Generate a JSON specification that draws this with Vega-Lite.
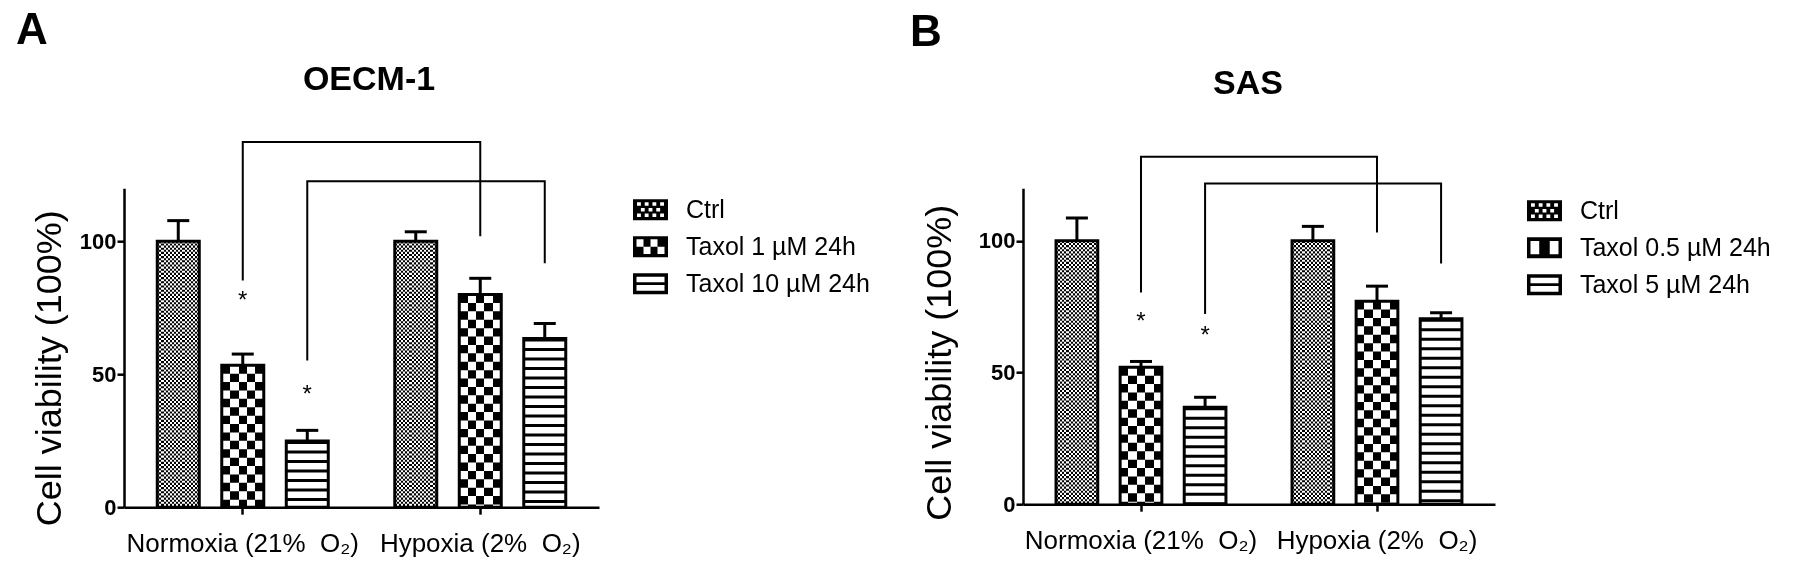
{
  "$schema": "https://vega.github.io/schema/vega-lite/v6.json",
  "background": "white",
  "padding": {"left": 15, "top": 8.2, "right": 5, "bottom": 0},
  "spacing": 39,
  "config": {
    "font": "Liberation Sans",
    "view": {"stroke": null},
    "axis": {"labelFont": "Liberation Sans", "titleFont": "Liberation Sans", "labelColor": "black", "titleColor": "black", "domainColor": "black", "tickColor": "black", "domainWidth": 2.5, "tickWidth": 2.5, "grid": false},
    "legend": {"labelFont": "Liberation Sans", "labelFontSize": 25, "labelColor": "black"},
    "title": {"color": "black", "font": "Liberation Sans"}
  },
  "resolve": {"scale": {"x": "independent", "y": "independent", "xOffset": "independent", "shape": "independent"}, "legend": {"shape": "independent"}},
  "datasets": {
    "a": [
      {"cond": "Normoxia (21% \u00a0O₂)", "grp": "Ctrl", "treat": "Ctrl", "v": 100, "hi": 107.8},
      {"cond": "Normoxia (21% \u00a0O₂)", "grp": "low", "treat": "Taxol 1 µM 24h", "v": 53.4, "hi": 57.6, "star": 77.4},
      {"cond": "Normoxia (21% \u00a0O₂)", "grp": "high", "treat": "Taxol 10 µM 24h", "v": 24.9, "hi": 28.9, "star": 42.3},
      {"cond": "Hypoxia (2% \u00a0O₂)", "grp": "Ctrl", "treat": "Ctrl", "v": 100, "hi": 103.6},
      {"cond": "Hypoxia (2% \u00a0O₂)", "grp": "low", "treat": "Taxol 1 µM 24h", "v": 80, "hi": 86.1},
      {"cond": "Hypoxia (2% \u00a0O₂)", "grp": "high", "treat": "Taxol 10 µM 24h", "v": 63.5, "hi": 69.1}
    ],
    "ba": [
      {"br": 1, "k": 1, "cond": "Normoxia (21% \u00a0O₂)", "grp": "low", "y": 85.3},
      {"br": 1, "k": 2, "cond": "Normoxia (21% \u00a0O₂)", "grp": "low", "y": 137.4},
      {"br": 1, "k": 3, "cond": "Hypoxia (2% \u00a0O₂)", "grp": "low", "y": 137.4},
      {"br": 1, "k": 4, "cond": "Hypoxia (2% \u00a0O₂)", "grp": "low", "y": 101.9},
      {"br": 2, "k": 1, "cond": "Normoxia (21% \u00a0O₂)", "grp": "high", "y": 55.2},
      {"br": 2, "k": 2, "cond": "Normoxia (21% \u00a0O₂)", "grp": "high", "y": 122.6},
      {"br": 2, "k": 3, "cond": "Hypoxia (2% \u00a0O₂)", "grp": "high", "y": 122.6},
      {"br": 2, "k": 4, "cond": "Hypoxia (2% \u00a0O₂)", "grp": "high", "y": 91.8}
    ],
    "b": [
      {"cond": "Normoxia (21% \u00a0O₂)", "grp": "Ctrl", "treat": "Ctrl", "v": 100, "hi": 108.7},
      {"cond": "Normoxia (21% \u00a0O₂)", "grp": "low", "treat": "Taxol 0.5 µM 24h", "v": 52, "hi": 54.2, "star": 69},
      {"cond": "Normoxia (21% \u00a0O₂)", "grp": "high", "treat": "Taxol 5 µM 24h", "v": 36.8, "hi": 40.6, "star": 63.9},
      {"cond": "Hypoxia (2% \u00a0O₂)", "grp": "Ctrl", "treat": "Ctrl", "v": 100, "hi": 105.5},
      {"cond": "Hypoxia (2% \u00a0O₂)", "grp": "low", "treat": "Taxol 0.5 µM 24h", "v": 77.1, "hi": 82.8},
      {"cond": "Hypoxia (2% \u00a0O₂)", "grp": "high", "treat": "Taxol 5 µM 24h", "v": 70.4, "hi": 72.7}
    ],
    "bb": [
      {"br": 1, "k": 1, "cond": "Normoxia (21% \u00a0O₂)", "grp": "low", "y": 80.4},
      {"br": 1, "k": 2, "cond": "Normoxia (21% \u00a0O₂)", "grp": "low", "y": 131.9},
      {"br": 1, "k": 3, "cond": "Hypoxia (2% \u00a0O₂)", "grp": "low", "y": 131.9},
      {"br": 1, "k": 4, "cond": "Hypoxia (2% \u00a0O₂)", "grp": "low", "y": 103.2},
      {"br": 2, "k": 1, "cond": "Normoxia (21% \u00a0O₂)", "grp": "high", "y": 72.2},
      {"br": 2, "k": 2, "cond": "Normoxia (21% \u00a0O₂)", "grp": "high", "y": 121.8},
      {"br": 2, "k": 3, "cond": "Hypoxia (2% \u00a0O₂)", "grp": "high", "y": 121.8},
      {"br": 2, "k": 4, "cond": "Hypoxia (2% \u00a0O₂)", "grp": "high", "y": 91.4}
    ]
  },
  "hconcat": [
    {
      "title": {"text": "A", "anchor": "start", "frame": "bounds", "fontSize": 44, "fontWeight": "bold", "baseline": "alphabetic", "offset": -24.8, "dx": -15},
      "resolve": {"scale": {"shape": "independent"}, "legend": {"shape": "independent"}},
      "vconcat": [
        {
          "width": 475,
          "height": 319,
          "title": {"text": "OECM-1", "anchor": "middle", "frame": "group", "fontSize": 34, "fontWeight": "bold", "baseline": "alphabetic", "offset": 13.7, "dx": 7.5},
          "data": {"name": "a"},
          "encoding": {
            "x": {"field": "cond", "type": "nominal", "sort": ["Normoxia (21% \u00a0O₂)", "Hypoxia (2% \u00a0O₂)"], "scale": {"paddingInner": 0, "paddingOuter": 0}, "axis": {"title": null, "labelAngle": 0, "labelFontSize": 26, "labelPadding": 16.5, "tickSize": 7, "labelLimit": 400}},
            "xOffset": {"field": "grp", "type": "nominal", "scale": {"domain": ["Ctrl", "low", "high"], "paddingInner": 0.349, "paddingOuter": 0.5155}}
          },
          "layer": [
            {
              "transform": [{"filter": {"field": "grp", "equal": "Ctrl"}}],
              "mark": {"type": "bar", "strokeWidth": 0, "clip": false, "fill": {"gradient": "linear", "x1": 0, "y1": 0, "x2": 1, "y2": 0, "stops": [
                {"offset": 0, "color": "#000"}, {"offset": 0.05, "color": "#000"}, {"offset": 0.05, "color": "#fff"}, {"offset": 0.1, "color": "#fff"},
                {"offset": 0.1, "color": "#000"}, {"offset": 0.15, "color": "#000"}, {"offset": 0.15, "color": "#fff"}, {"offset": 0.2, "color": "#fff"},
                {"offset": 0.2, "color": "#000"}, {"offset": 0.25, "color": "#000"}, {"offset": 0.25, "color": "#fff"}, {"offset": 0.3, "color": "#fff"},
                {"offset": 0.3, "color": "#000"}, {"offset": 0.35, "color": "#000"}, {"offset": 0.35, "color": "#fff"}, {"offset": 0.4, "color": "#fff"},
                {"offset": 0.4, "color": "#000"}, {"offset": 0.45, "color": "#000"}, {"offset": 0.45, "color": "#fff"}, {"offset": 0.5, "color": "#fff"},
                {"offset": 0.5, "color": "#000"}, {"offset": 0.55, "color": "#000"}, {"offset": 0.55, "color": "#fff"}, {"offset": 0.6, "color": "#fff"},
                {"offset": 0.6, "color": "#000"}, {"offset": 0.65, "color": "#000"}, {"offset": 0.65, "color": "#fff"}, {"offset": 0.7, "color": "#fff"},
                {"offset": 0.7, "color": "#000"}, {"offset": 0.75, "color": "#000"}, {"offset": 0.75, "color": "#fff"}, {"offset": 0.8, "color": "#fff"},
                {"offset": 0.8, "color": "#000"}, {"offset": 0.85, "color": "#000"}, {"offset": 0.85, "color": "#fff"}, {"offset": 0.9, "color": "#fff"},
                {"offset": 0.9, "color": "#000"}, {"offset": 0.95, "color": "#000"}, {"offset": 0.95, "color": "#fff"}, {"offset": 1, "color": "#fff"}
              ]}},
              "encoding": {"y": {"field": "v", "type": "quantitative", "stack": null, "scale": {"domain": [0, 120], "nice": false}, "axis": {"values": [0, 50, 100], "title": "Cell viability (100%)", "titleFontSize": 36, "titleFontWeight": "normal", "titleX": -75, "titleY": 179.5, "titleAlign": "center", "titleBaseline": "middle", "titleAngle": -90, "labelFontSize": 22, "labelFontWeight": "bold", "labelPadding": 1, "tickSize": 7}}}
            },
            {
              "transform": [{"filter": {"field": "grp", "equal": "low"}}],
              "mark": {"type": "bar", "strokeWidth": 0, "clip": false, "fill": {"gradient": "linear", "x1": 0, "y1": 0, "x2": 1, "y2": 0, "stops": [
                {"offset": 0, "color": "#fff"}, {"offset": 0.2, "color": "#fff"}, {"offset": 0.2, "color": "#000"}, {"offset": 0.4, "color": "#000"},
                {"offset": 0.4, "color": "#fff"}, {"offset": 0.6, "color": "#fff"}, {"offset": 0.6, "color": "#000"}, {"offset": 0.8, "color": "#000"},
                {"offset": 0.8, "color": "#fff"}, {"offset": 1, "color": "#fff"}
              ]}},
              "encoding": {"y": {"field": "v", "type": "quantitative", "stack": null, "scale": {"domain": [0, 120], "nice": false}}}
            },
            {
              "transform": [{"filter": {"field": "grp", "equal": "high"}}],
              "mark": {"type": "bar", "strokeWidth": 0, "clip": false, "fill": "white"},
              "encoding": {"y": {"field": "v", "type": "quantitative", "stack": null, "scale": {"domain": [0, 120], "nice": false}}}
            },
            {
              "transform": [{"filter": {"field": "grp", "equal": "Ctrl"}}],
              "mark": {"type": "rule", "stroke": "white", "strokeWidth": 42, "strokeDash": [2.1, 2.1], "strokeCap": "butt", "blend": "difference", "clip": false},
              "encoding": {"y": {"field": "v", "type": "quantitative", "scale": {"domain": [0, 120], "nice": false}}, "y2": {"datum": 0}}
            },
            {
              "transform": [{"filter": {"field": "grp", "equal": "low"}}],
              "mark": {"type": "rule", "stroke": "white", "strokeWidth": 42, "strokeDash": [8.4, 8.4], "strokeCap": "butt", "blend": "difference", "clip": false},
              "encoding": {"y": {"field": "v", "type": "quantitative", "scale": {"domain": [0, 120], "nice": false}}, "y2": {"datum": 0}}
            },
            {
              "transform": [{"filter": {"field": "grp", "equal": "high"}}],
              "mark": {"type": "rule", "stroke": "black", "strokeWidth": 42, "strokeDash": [3, 6.5], "strokeCap": "butt", "clip": false},
              "encoding": {"y": {"field": "v", "type": "quantitative", "scale": {"domain": [0, 120], "nice": false}}, "y2": {"datum": 0}}
            },
            {
              "mark": {"type": "bar", "fill": "white", "fillOpacity": 0, "stroke": "black", "strokeWidth": 3, "strokeJoin": "miter", "clip": false},
              "encoding": {"y": {"field": "v", "type": "quantitative", "stack": null, "scale": {"domain": [0, 120], "nice": false}}}
            },
            {
              "mark": {"type": "rule", "color": "black", "strokeWidth": 3, "clip": false},
              "encoding": {"y": {"field": "v", "type": "quantitative", "scale": {"domain": [0, 120], "nice": false}}, "y2": {"field": "hi"}}
            },
            {
              "mark": {"type": "tick", "color": "black", "size": 22, "thickness": 3, "opacity": 1, "clip": false},
              "encoding": {"y": {"field": "hi", "type": "quantitative", "scale": {"domain": [0, 120], "nice": false}}}
            },
            {
              "data": {"name": "ba"},
              "mark": {"type": "line", "color": "black", "strokeWidth": 2, "strokeCap": "butt", "strokeJoin": "miter", "clip": false},
              "encoding": {"y": {"field": "y", "type": "quantitative", "scale": {"domain": [0, 120], "nice": false}}, "detail": {"field": "br"}, "order": {"field": "k"}}
            },
            {
              "transform": [{"filter": {"field": "star", "valid": true}}],
              "mark": {"type": "text", "text": "*", "fontSize": 24, "baseline": "alphabetic", "dy": 7, "color": "black", "clip": false},
              "encoding": {"y": {"field": "star", "type": "quantitative", "scale": {"domain": [0, 120], "nice": false}}}
            },
            {
              "mark": {"type": "point", "filled": true, "opacity": 0, "color": "black"},
              "encoding": {
                "y": {"field": "v", "type": "quantitative", "scale": {"domain": [0, 120], "nice": false}},
                "shape": {"field": "treat", "type": "nominal", "scale": {"domain": ["Ctrl", "Taxol 1 µM 24h", "Taxol 10 µM 24h"], "range": [
                  "M-1,-0.6H1V0.6H-1Z M-0.77,-0.42V-0.22H-0.55V-0.42Z M-0.33,-0.42V-0.22H-0.11V-0.42Z M0.11,-0.42V-0.22H0.33V-0.42Z M0.55,-0.42V-0.22H0.77V-0.42Z M-0.55,-0.1V0.1H-0.33V-0.1Z M-0.11,-0.1V0.1H0.11V-0.1Z M0.33,-0.1V0.1H0.55V-0.1Z M-0.77,0.22V0.42H-0.55V0.22Z M-0.33,0.22V0.42H-0.11V0.22Z M0.11,0.22V0.42H0.33V0.22Z M0.55,0.22V0.42H0.77V0.22Z",
                  "M-1,-0.6H1V0.6H-1Z M-0.8,-0.42V0H-0.4V-0.42Z M0,-0.42V0H0.4V-0.42Z M-0.4,0V0.42H0V0Z M0.4,0V0.42H0.8V0Z",
                  "M-1,-0.6H1V0.6H-1Z M-0.8,-0.4V-0.08H0.8V-0.4Z M-0.8,0.08V0.4H0.8V0.08Z"
                ]}, "legend": {"title": null, "orient": "none", "legendX": 509, "legendY": 4, "direction": "vertical", "symbolSize": 1225, "symbolOpacity": 1, "symbolFillColor": "black", "symbolStrokeWidth": 0, "labelFontSize": 25, "labelOffset": 18, "rowPadding": 6, "padding": 0, "labelLimit": 400}}
              }
            }
          ]
        }
      ]
    },
    {
      "title": {"text": "B", "anchor": "start", "frame": "bounds", "fontSize": 44, "fontWeight": "bold", "baseline": "alphabetic", "offset": -22.8, "dx": -12},
      "resolve": {"scale": {"shape": "independent"}, "legend": {"shape": "independent"}},
      "vconcat": [
        {
          "width": 472,
          "height": 316,
          "title": {"text": "SAS", "anchor": "middle", "frame": "group", "fontSize": 34, "fontWeight": "bold", "baseline": "alphabetic", "offset": 25, "dx": -11},
          "data": {"name": "b"},
          "encoding": {
            "x": {"field": "cond", "type": "nominal", "sort": ["Normoxia (21% \u00a0O₂)", "Hypoxia (2% \u00a0O₂)"], "scale": {"paddingInner": 0, "paddingOuter": 0}, "axis": {"title": null, "labelAngle": 0, "labelFontSize": 26, "labelPadding": 16.5, "tickSize": 7, "labelLimit": 400}},
            "xOffset": {"field": "grp", "type": "nominal", "scale": {"domain": ["Ctrl", "low", "high"], "paddingInner": 0.349, "paddingOuter": 0.5155}}
          },
          "layer": [
            {
              "transform": [{"filter": {"field": "grp", "equal": "Ctrl"}}],
              "mark": {"type": "bar", "strokeWidth": 0, "clip": false, "fill": {"gradient": "linear", "x1": 0, "y1": 0, "x2": 1, "y2": 0, "stops": [
                {"offset": 0, "color": "#000"}, {"offset": 0.05, "color": "#000"}, {"offset": 0.05, "color": "#fff"}, {"offset": 0.1, "color": "#fff"},
                {"offset": 0.1, "color": "#000"}, {"offset": 0.15, "color": "#000"}, {"offset": 0.15, "color": "#fff"}, {"offset": 0.2, "color": "#fff"},
                {"offset": 0.2, "color": "#000"}, {"offset": 0.25, "color": "#000"}, {"offset": 0.25, "color": "#fff"}, {"offset": 0.3, "color": "#fff"},
                {"offset": 0.3, "color": "#000"}, {"offset": 0.35, "color": "#000"}, {"offset": 0.35, "color": "#fff"}, {"offset": 0.4, "color": "#fff"},
                {"offset": 0.4, "color": "#000"}, {"offset": 0.45, "color": "#000"}, {"offset": 0.45, "color": "#fff"}, {"offset": 0.5, "color": "#fff"},
                {"offset": 0.5, "color": "#000"}, {"offset": 0.55, "color": "#000"}, {"offset": 0.55, "color": "#fff"}, {"offset": 0.6, "color": "#fff"},
                {"offset": 0.6, "color": "#000"}, {"offset": 0.65, "color": "#000"}, {"offset": 0.65, "color": "#fff"}, {"offset": 0.7, "color": "#fff"},
                {"offset": 0.7, "color": "#000"}, {"offset": 0.75, "color": "#000"}, {"offset": 0.75, "color": "#fff"}, {"offset": 0.8, "color": "#fff"},
                {"offset": 0.8, "color": "#000"}, {"offset": 0.85, "color": "#000"}, {"offset": 0.85, "color": "#fff"}, {"offset": 0.9, "color": "#fff"},
                {"offset": 0.9, "color": "#000"}, {"offset": 0.95, "color": "#000"}, {"offset": 0.95, "color": "#fff"}, {"offset": 1, "color": "#fff"}
              ]}},
              "encoding": {"y": {"field": "v", "type": "quantitative", "stack": null, "scale": {"domain": [0, 120], "nice": false}, "axis": {"values": [0, 50, 100], "title": "Cell viability (100%)", "titleFontSize": 36, "titleFontWeight": "normal", "titleX": -83, "titleY": 174, "titleAlign": "center", "titleBaseline": "middle", "titleAngle": -90, "labelFontSize": 22, "labelFontWeight": "bold", "labelPadding": 1, "tickSize": 7}}}
            },
            {
              "transform": [{"filter": {"field": "grp", "equal": "low"}}],
              "mark": {"type": "bar", "strokeWidth": 0, "clip": false, "fill": {"gradient": "linear", "x1": 0, "y1": 0, "x2": 1, "y2": 0, "stops": [
                {"offset": 0, "color": "#fff"}, {"offset": 0.2, "color": "#fff"}, {"offset": 0.2, "color": "#000"}, {"offset": 0.4, "color": "#000"},
                {"offset": 0.4, "color": "#fff"}, {"offset": 0.6, "color": "#fff"}, {"offset": 0.6, "color": "#000"}, {"offset": 0.8, "color": "#000"},
                {"offset": 0.8, "color": "#fff"}, {"offset": 1, "color": "#fff"}
              ]}},
              "encoding": {"y": {"field": "v", "type": "quantitative", "stack": null, "scale": {"domain": [0, 120], "nice": false}}}
            },
            {
              "transform": [{"filter": {"field": "grp", "equal": "high"}}],
              "mark": {"type": "bar", "strokeWidth": 0, "clip": false, "fill": "white"},
              "encoding": {"y": {"field": "v", "type": "quantitative", "stack": null, "scale": {"domain": [0, 120], "nice": false}}}
            },
            {
              "transform": [{"filter": {"field": "grp", "equal": "Ctrl"}}],
              "mark": {"type": "rule", "stroke": "white", "strokeWidth": 42, "strokeDash": [2.1, 2.1], "strokeCap": "butt", "blend": "difference", "clip": false},
              "encoding": {"y": {"field": "v", "type": "quantitative", "scale": {"domain": [0, 120], "nice": false}}, "y2": {"datum": 0}}
            },
            {
              "transform": [{"filter": {"field": "grp", "equal": "low"}}],
              "mark": {"type": "rule", "stroke": "white", "strokeWidth": 42, "strokeDash": [8.4, 8.4], "strokeCap": "butt", "blend": "difference", "clip": false},
              "encoding": {"y": {"field": "v", "type": "quantitative", "scale": {"domain": [0, 120], "nice": false}}, "y2": {"datum": 0}}
            },
            {
              "transform": [{"filter": {"field": "grp", "equal": "high"}}],
              "mark": {"type": "rule", "stroke": "black", "strokeWidth": 42, "strokeDash": [3, 6.5], "strokeCap": "butt", "clip": false},
              "encoding": {"y": {"field": "v", "type": "quantitative", "scale": {"domain": [0, 120], "nice": false}}, "y2": {"datum": 0}}
            },
            {
              "mark": {"type": "bar", "fill": "white", "fillOpacity": 0, "stroke": "black", "strokeWidth": 3, "strokeJoin": "miter", "clip": false},
              "encoding": {"y": {"field": "v", "type": "quantitative", "stack": null, "scale": {"domain": [0, 120], "nice": false}}}
            },
            {
              "mark": {"type": "rule", "color": "black", "strokeWidth": 3, "clip": false},
              "encoding": {"y": {"field": "v", "type": "quantitative", "scale": {"domain": [0, 120], "nice": false}}, "y2": {"field": "hi"}}
            },
            {
              "mark": {"type": "tick", "color": "black", "size": 22, "thickness": 3, "opacity": 1, "clip": false},
              "encoding": {"y": {"field": "hi", "type": "quantitative", "scale": {"domain": [0, 120], "nice": false}}}
            },
            {
              "data": {"name": "bb"},
              "mark": {"type": "line", "color": "black", "strokeWidth": 2, "strokeCap": "butt", "strokeJoin": "miter", "clip": false},
              "encoding": {"y": {"field": "y", "type": "quantitative", "scale": {"domain": [0, 120], "nice": false}}, "detail": {"field": "br"}, "order": {"field": "k"}}
            },
            {
              "transform": [{"filter": {"field": "star", "valid": true}}],
              "mark": {"type": "text", "text": "*", "fontSize": 24, "baseline": "alphabetic", "dy": 7, "color": "black", "clip": false},
              "encoding": {"y": {"field": "star", "type": "quantitative", "scale": {"domain": [0, 120], "nice": false}}}
            },
            {
              "mark": {"type": "point", "filled": true, "opacity": 0, "color": "black"},
              "encoding": {
                "y": {"field": "v", "type": "quantitative", "scale": {"domain": [0, 120], "nice": false}},
                "shape": {"field": "treat", "type": "nominal", "scale": {"domain": ["Ctrl", "Taxol 0.5 µM 24h", "Taxol 5 µM 24h"], "range": [
                  "M-1,-0.6H1V0.6H-1Z M-0.77,-0.42V-0.22H-0.55V-0.42Z M-0.33,-0.42V-0.22H-0.11V-0.42Z M0.11,-0.42V-0.22H0.33V-0.42Z M0.55,-0.42V-0.22H0.77V-0.42Z M-0.55,-0.1V0.1H-0.33V-0.1Z M-0.11,-0.1V0.1H0.11V-0.1Z M0.33,-0.1V0.1H0.55V-0.1Z M-0.77,0.22V0.42H-0.55V0.22Z M-0.33,0.22V0.42H-0.11V0.22Z M0.11,0.22V0.42H0.33V0.22Z M0.55,0.22V0.42H0.77V0.22Z",
                  "M-1,-0.6H1V0.6H-1Z M-0.8,-0.38V0.38H-0.3V-0.38Z M0.3,-0.38V0.38H0.8V-0.38Z",
                  "M-1,-0.6H1V0.6H-1Z M-0.8,-0.4V-0.08H0.8V-0.4Z M-0.8,0.08V0.4H0.8V0.08Z"
                ]}, "legend": {"title": null, "orient": "none", "legendX": 504, "legendY": 5, "direction": "vertical", "symbolSize": 1225, "symbolOpacity": 1, "symbolFillColor": "black", "symbolStrokeWidth": 0, "labelFontSize": 25, "labelOffset": 18, "rowPadding": 6, "padding": 0, "labelLimit": 400}}
              }
            }
          ]
        }
      ]
    }
  ]
}
